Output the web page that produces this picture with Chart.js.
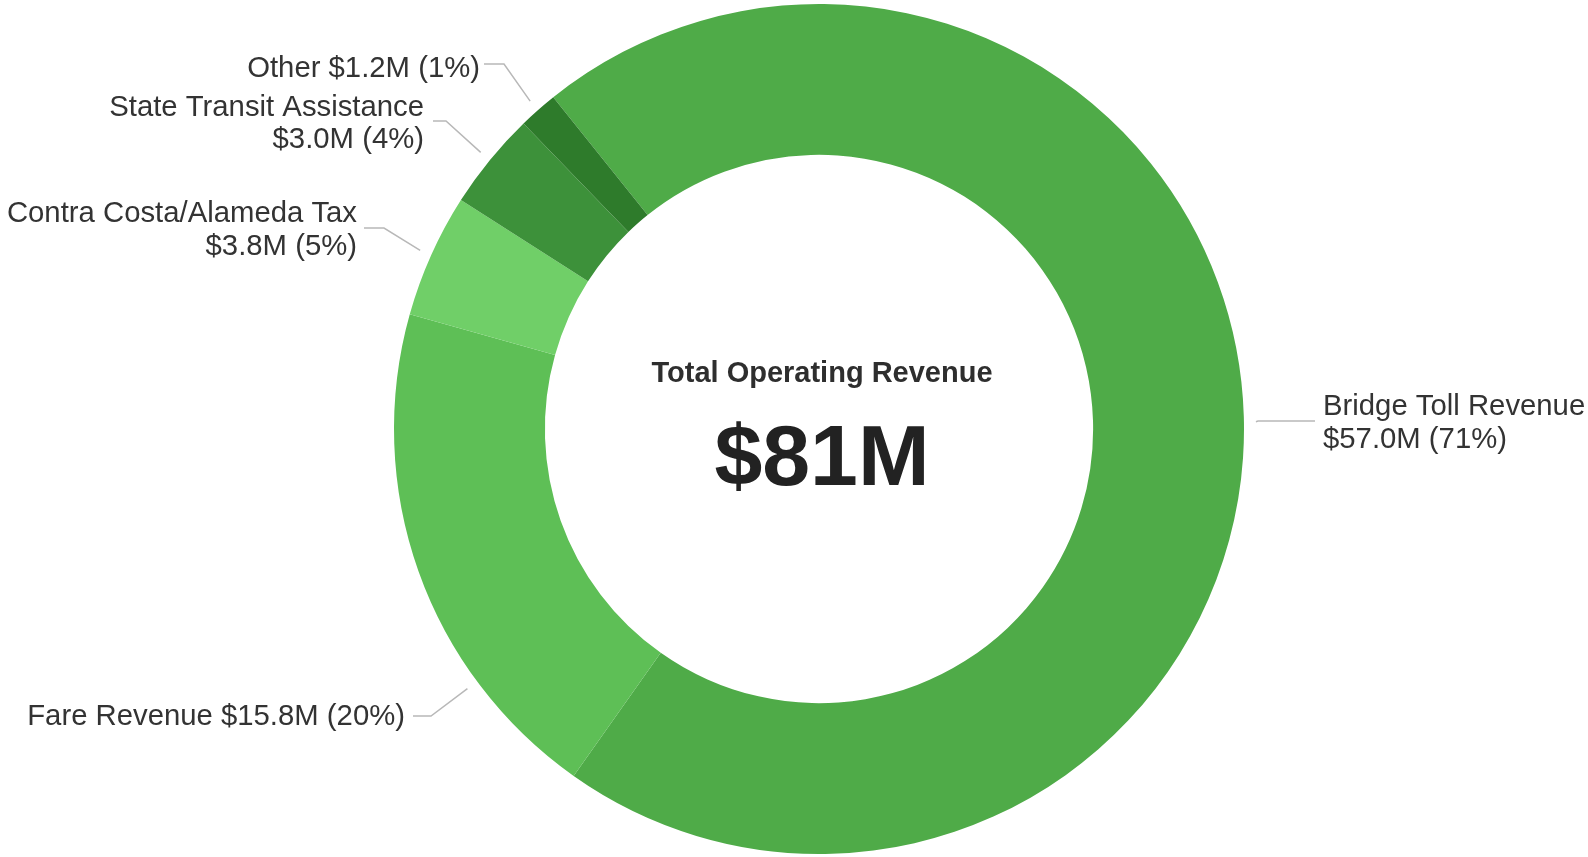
<!DOCTYPE html>
<html>
<head>
<meta charset="utf-8">
<title>Total Operating Revenue</title>
<script src="https://cdn.jsdelivr.net/npm/chart.js@4/dist/chart.umd.min.js"></script>
<style>
  html, body { margin: 0; padding: 0; background: #ffffff; }
  #wrap { position: relative; width: 1588px; height: 857px; }
</style>
</head>
<body>
<div id="wrap"><canvas id="revenueChart"></canvas></div>
<script>
// Revenue sources, in $M
const categories = ['Bridge Toll Revenue', 'Fare Revenue', 'Contra Costa/Alameda Tax', 'State Transit Assistance', 'Other'];
const revenue = [57.0, 15.8, 3.8, 3.0, 1.2];
const sliceColors = ['#4fab48', '#5ebf56', '#70cf68', '#3d913a', '#2e7b2b'];
const centerTitle = 'Total Operating Revenue';

// Where each callout sits: text edge, baselines, elbow of the leader line
const calloutLayout = [
    { align: 'left',  textX: 1323, lines: [415, 448], elbow: [1258, 421], end: [1315, 421], frac: 0.503 },
    { align: 'right', textX: 405,  lines: [725],      elbow: [431, 716],  end: [413, 716],  frac: 0.26 },
    { align: 'right', textX: 357,  lines: [222, 255], elbow: [384, 228],  end: [364, 228],  frac: 0.5 },
    { align: 'right', textX: 424,  lines: [116, 148], elbow: [446, 121],  end: [433, 121],  frac: 0.5 },
    { align: 'right', textX: 480,  lines: [77],       elbow: [504, 64],   end: [484, 64],   frac: 0.5 }
];

const total = revenue.reduce((a, b) => a + b, 0);

function calloutText(i) {
    const amount = '$' + revenue[i].toFixed(1) + 'M (' + Math.round(revenue[i] / total * 100) + '%)';
    if (calloutLayout[i].lines.length === 1) return [categories[i] + ' ' + amount];
    return [categories[i], amount];
}

const calloutPlugin = {
    id: 'callouts',
    afterDatasetsDraw(chart) {
        const ctx = chart.ctx;
        const arcs = chart.getDatasetMeta(0).data;
        ctx.save();

        arcs.forEach((arc, i) => {
            const lay = calloutLayout[i];
            const p = arc.getProps(['x', 'y', 'startAngle', 'endAngle', 'outerRadius'], true);
            const a = p.startAngle + (p.endAngle - p.startAngle) * lay.frac;
            const r = p.outerRadius + 12;
            const ax = p.x + Math.cos(a) * r;
            const ay = p.y + Math.sin(a) * r;

            ctx.strokeStyle = '#b8b8b8';
            ctx.lineWidth = 1.5;
            ctx.beginPath();
            ctx.moveTo(ax, ay);
            ctx.lineTo(lay.elbow[0], lay.elbow[1]);
            ctx.lineTo(lay.end[0], lay.end[1]);
            ctx.stroke();

            ctx.fillStyle = '#333333';
            ctx.font = '29.3px "Liberation Sans", Arial, sans-serif';
            ctx.textAlign = lay.align;
            ctx.textBaseline = 'alphabetic';
            calloutText(i).forEach((t, k) => ctx.fillText(t, lay.textX, lay.lines[k]));
        });

        // centre label
        const cx = arcs[0].x + 3;
        ctx.textAlign = 'center';
        ctx.fillStyle = '#2e2e2e';
        ctx.font = 'bold 29px "Liberation Sans", Arial, sans-serif';
        ctx.fillText(centerTitle, cx, 382);
        ctx.fillStyle = '#222222';
        ctx.font = 'bold 86px "Liberation Sans", Arial, sans-serif';
        ctx.fillText('$' + Math.round(total) + 'M', cx, 485);

        ctx.restore();
    }
};

new Chart(document.getElementById('revenueChart'), {
    type: 'doughnut',
    data: {
        labels: categories,
        datasets: [{
            data: revenue,
            backgroundColor: sliceColors,
            borderWidth: 0,
            hoverOffset: 0
        }]
    },
    options: {
        responsive: true,
        maintainAspectRatio: false,
        animation: false,
        rotation: -38.7,
        cutout: '64.5%',
        layout: {
            padding: { left: 50, right: 0, top: 4, bottom: 3 }
        },
        plugins: {
            legend: { display: false },
            tooltip: { enabled: false }
        }
    },
    plugins: [calloutPlugin]
});
</script>
</body>
</html>
